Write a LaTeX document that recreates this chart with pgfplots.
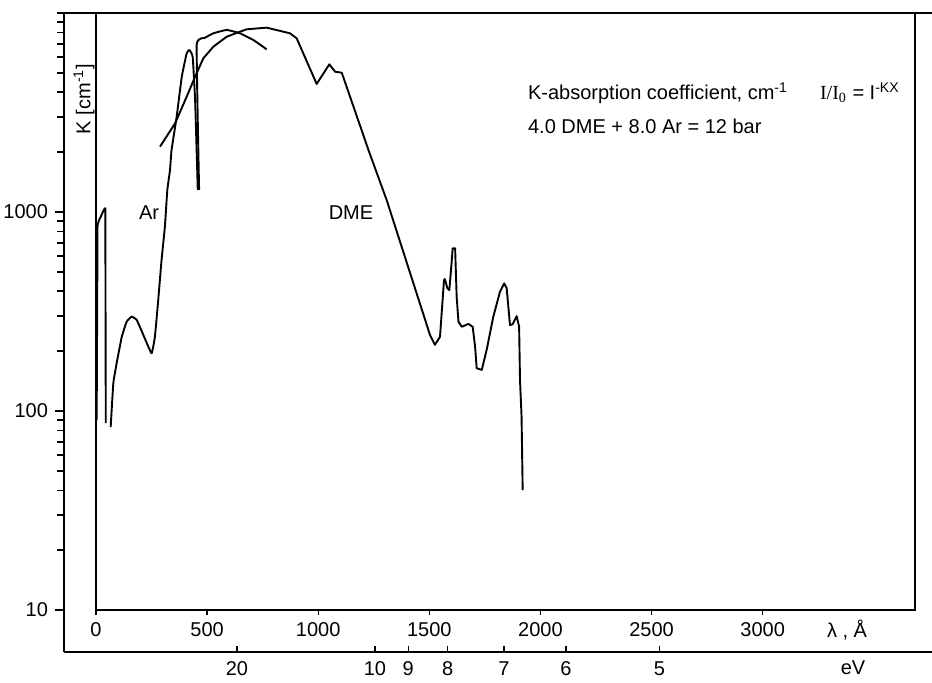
\documentclass[border=0pt]{standalone}
\usepackage{pgfplots}
\pgfplotsset{compat=1.18}
\usepackage{fontspec}
\setmainfont{Liberation Sans}
\newfontfamily\serif{Liberation Serif}

\pgfplotsset{
  every axis/.append style={
    scale only axis, enlargelimits=false,
    tick label style={font=\fontsize{10}{12}\selectfont},
    /pgf/number format/assume math mode=true,
    axis line style={line width=0.9pt},
    tick style={black, line width=0.7pt},
  },
  curve/.style={black, line width=0.95pt, mark=none, line join=round},
}

\begin{document}
\begin{tikzpicture}[font=\fontsize{10}{12}\selectfont]

% outer frame: log ticks on the left
\begin{axis}[
  at={(32pt,15pt)}, anchor=south west,
  width=434pt, height=319.5pt,
  xmin=-144, xmax=3762, ymode=log, ymin=6.153, ymax=10000,
  axis lines*=left, axis line style={-},
  xtick=\empty,
  ytick={10,100,1000}, yticklabels={10,100,1000},
  minor ytick={20,30,40,50,60,70,80,90,200,300,400,500,600,700,800,900,
               2000,3000,4000,5000,6000,7000,8000,9000,10000},
  tick align=outside, major tick length=4.5pt, minor tick length=3.5pt,
]
\draw[line width=0.9pt] (rel axis cs:0,1) -- (rel axis cs:1,1);
\end{axis}

% eV scale
\begin{axis}[
  at={(32pt,15pt)}, anchor=south west,
  width=434pt, height=319.5pt,
  xmin=-144, xmax=3762, ymin=0, ymax=1,
  axis x line*=bottom, axis y line=none, axis line style={-},
  ytick=\empty,
  xtick={634,1255,1405,1583,1836,2115,2535},
  xticklabels={20,10,9,8,7,6,5},
  tick align=inside, major tick length=3.25pt,
  xticklabel style={yshift=-1.2pt},
]
\end{axis}

% wavelength axis and curves
\begin{axis}[
  at={(48pt,36pt)}, anchor=south west,
  width=409.5pt, height=298.5pt,
  xmin=0, xmax=3685.5, ymode=log, ymin=10, ymax=10000,
  xtick={0,500,1000,1500,2000,2500,3000},
  xticklabels={0,500,1000,1500,2000,2500,3000},
  xtick pos=left, tick align=outside, major tick length=2.5pt,
  ytick=\empty, ytick style={draw=none},
]
% Ar, short wavelength spike
\addplot[curve] coordinates {
  (3,90)(7,860)(13,905)(22,950)(36,1030)(42,1045)(44,87)
};
% Ar
\addplot[curve, smooth, tension=0.2] coordinates {
  (66,83)(78,138)(93,174)(116,236)(138,281)(160,298)(183,287)(213,241)
  (250,195)(265,236)(280,361)(295,574)(310,844)(321,1291)(333,1625)
  (340,2050)(363,3013)(386,4786)(408,6270)(420,6520)(435,6030)
  (446,3655)(458,1290)
};
% branch
\addplot[curve, smooth, tension=0.2] coordinates {
  (464,1290)(453,6900)(490,7500)(528,7906)(588,8220)(648,7906)(708,7317)(768,6570)
};
% DME
\addplot[curve] coordinates {
  (288,2130)(356,2790)(408,3796)(446,4786)(483,5920)(528,6770)(588,7600)
  (648,8054)(678,8280)(768,8440)(873,7906)(903,7460)(993,4400)(1050,5520)
  (1076,5070)(1106,5010)(1226,2050)(1308,1148)(1503,241)(1525,215)
  (1548,236)(1566,455)(1570,460)(1581,414)(1590,405)(1600,552)(1605,657)
  (1616,657)(1623,375)(1631,281)(1646,265)(1676,274)(1695,265)(1706,210)
  (1713,164)(1736,161)(1758,203)(1788,298)(1818,398)(1837,438)(1848,414)
  (1863,270)(1875,273)(1893,300)(1904,265)(1908,143)(1915,94)(1920,40)
};
\end{axis}

% texts
\node[rotate=90] at (42pt,291.5pt) {K [cm\textsuperscript{-1}]};
\node[anchor=base] at (74.5pt,231.5pt) {Ar};
\node[anchor=base] at (175.5pt,231.5pt) {DME};
\node[anchor=base west] at (260.5pt,291pt) {K-absorption coefficient, cm\textsuperscript{-1}};
\node[anchor=base west] at (406.5pt,291pt) {{\serif I/I\textsubscript{0}} = I\textsuperscript{-KX}};
\node[anchor=base west] at (260.5pt,274.5pt) {4.0 DME + 8.0 Ar = 12 bar};
\node at (423.5pt,26pt) {λ , Å};
\node at (426.5pt,7pt) {eV};

\pgfresetboundingbox
\useasboundingbox (0,0) rectangle (466pt,341pt);
\end{tikzpicture}
\end{document}
